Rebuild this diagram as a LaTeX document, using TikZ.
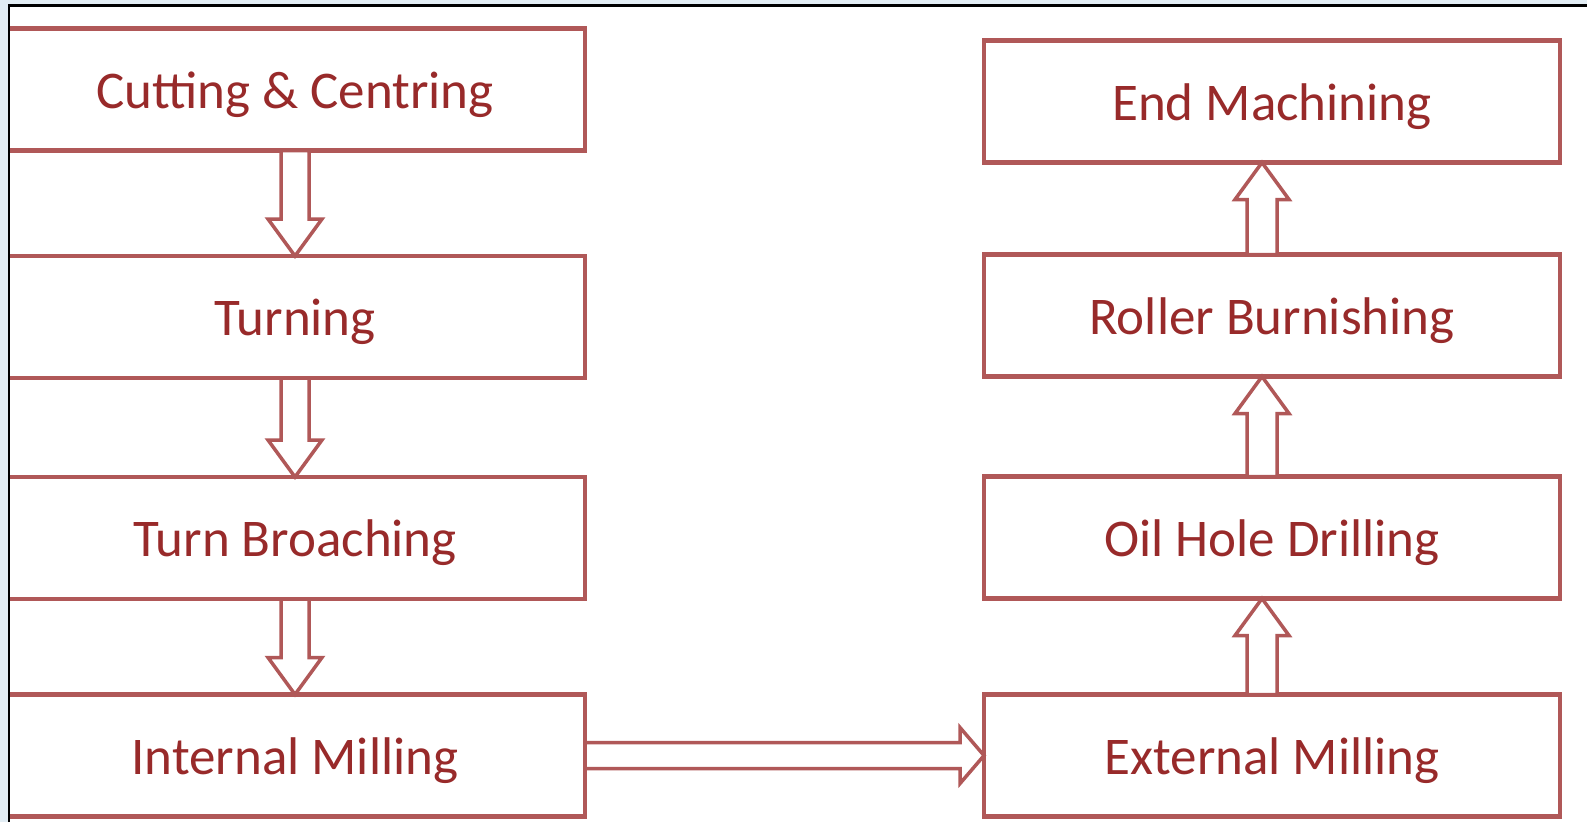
\documentclass[tikz,border=0pt]{standalone}
\usepackage{fontspec}
\setmainfont{Carlito}
\usetikzlibrary{calc}
\definecolor{boxred}{RGB}{176,88,88}
\definecolor{txtred}{RGB}{152,42,42}
\definecolor{paleblue}{RGB}{226,237,244}

% hollow block arrow: #1 tail, #2 tip, #3 shaft half width, #4 head half width, #5 head length
\newcommand\blockarrow[5]{%
  \coordinate (ba-base) at ($(#2)!#5!(#1)$);
  \draw[flowarrow]
    ($(#1)!#3!90:(#2)$) -- ($(ba-base)!#3!90:(#2)$) -- ($(ba-base)!#4!90:(#2)$)
    -- (#2)
    -- ($(ba-base)!#4!-90:(#2)$) -- ($(ba-base)!#3!-90:(#2)$) -- ($(#1)!#3!-90:(#2)$)
    -- cycle;
}

\tikzset{
  stage/.style={draw=boxred, line width=4.5pt, fill=white, text=txtred,
    font=\fontsize{53}{60}\selectfont, inner sep=0pt, outer sep=0pt,
    text height=37pt, text depth=0pt, minimum height=122pt},
  leftstage/.style={stage, minimum width=580pt},
  rightstage/.style={stage, minimum width=576pt},
  flowarrow/.style={draw=boxred, line width=3.5pt, fill=white, line join=miter},
}

\begin{document}
\begin{tikzpicture}[x=1pt, y=-1pt]
  \useasboundingbox (0,0) rectangle (1587,822);
  \fill[paleblue] (0,0) rectangle (1587,822);
  \fill[white] (10,7) rectangle (1587,822);

  \begin{scope}
    \clip (10,7) rectangle (1587,822);
    % left column, top to bottom
    \node[leftstage] (c1) at (295,89.5) {Cutting \& Centring};
    \node[leftstage] (c2) at (295,317) {Turning};
    \node[leftstage] (c3) at (295,538) {Turn Broaching};
    \node[leftstage] (c4) at (295,755.5) {Internal Milling};
    % right column, bottom to top
    \node[rightstage] (r4) at (1272,755.5) {External Milling};
    \node[rightstage] (r3) at (1272,537.5) {Oil Hole Drilling};
    \node[rightstage] (r2) at (1272,315.5) {Roller Burnishing};
    \node[rightstage] (r1) at (1272,101.5) {End Machining};

    % downward flow on the left
    \blockarrow{c1.south}{c2.north}{14pt}{27pt}{37pt}
    \blockarrow{c2.south}{c3.north}{14pt}{27pt}{37pt}
    \blockarrow{c3.south}{c4.north}{14pt}{27pt}{37pt}

    % across to the right column
    \blockarrow{c4.east}{r4.west}{13pt}{28pt}{24pt}

    % upward flow on the right
    \coordinate (u1t) at ([xshift=-10pt]r4.north);
    \coordinate (u1h) at ([xshift=-10pt]r3.south);
    \coordinate (u2t) at ([xshift=-10pt]r3.north);
    \coordinate (u2h) at ([xshift=-10pt]r2.south);
    \coordinate (u3t) at ([xshift=-10pt]r2.north);
    \coordinate (u3h) at ([xshift=-10pt]r1.south);
    \blockarrow{u1t}{u1h}{15pt}{27pt}{37pt}
    \blockarrow{u2t}{u2h}{15pt}{27pt}{37pt}
    \blockarrow{u3t}{u3h}{15pt}{27pt}{37pt}
  \end{scope}

  % frame edges
  \draw[black, line width=2.5pt] (9,822) -- (9,5.5) -- (1587,5.5);
\end{tikzpicture}
\end{document}
